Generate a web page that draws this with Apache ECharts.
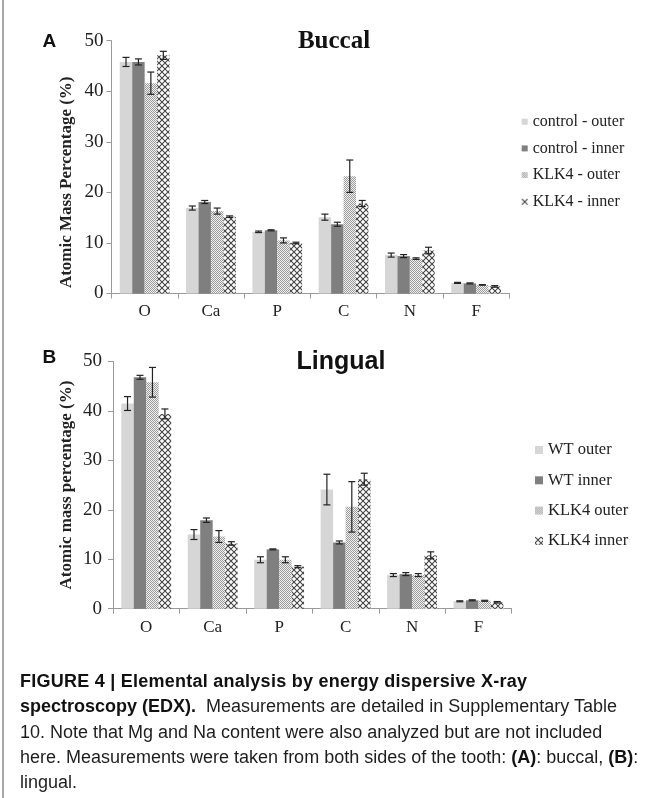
<!DOCTYPE html>
<html><head><meta charset="utf-8">
<script src="https://cdn.jsdelivr.net/npm/echarts@6/dist/echarts.min.js"></script>
<style>
html,body{margin:0;padding:0;background:#fff;}
#wrap{position:relative;width:652px;height:798px;overflow:hidden;background:#fff;}
#chart{position:absolute;left:0;top:0;width:652px;height:798px;}
#caption{position:absolute;left:20px;top:668.8px;width:632px;font-family:"Liberation Sans",Arial,sans-serif;font-size:18px;line-height:25.4px;color:#1e1e1e;white-space:nowrap;}
#caption b{font-weight:bold;color:#111;}
#caption .h{letter-spacing:0.25px;}
</style></head>
<body><div id="wrap"><div id="chart"></div>
<div id="caption"><b class="h">FIGURE 4 | Elemental analysis by energy dispersive X-ray</b><br><b>spectroscopy (EDX).</b>&nbsp; Measurements are detailed in Supplementary Table<br>10. Note that Mg and Na content were also analyzed but are not included<br>here. Measurements were taken from both sides of the tooth: <b>(A)</b>: buccal, <b>(B)</b>:<br>lingual.</div>
</div>
<script>
// ---- data ----
const categories = ['O', 'Ca', 'P', 'C', 'N', 'F'];
const yTicks = [0, 10, 20, 30, 40, 50];

// Panel A: Buccal
const namesA = ['control - outer', 'control - inner', 'KLK4 - outer', 'KLK4 - inner'];
const controlOuterA = [45.8, 16.9, 12.2, 15.1, 7.6, 2.1];
const controlOuterErrA = [0.9, 0.4, 0.15, 0.6, 0.4, 0.1];
const controlInnerA = [45.8, 18.1, 12.5, 13.7, 7.4, 2.0];
const controlInnerErrA = [0.6, 0.3, 0.1, 0.4, 0.3, 0.1];
const klk4OuterA = [41.6, 16.3, 10.5, 23.2, 6.9, 1.7];
const klk4OuterErrA = [2.2, 0.6, 0.5, 3.2, 0.15, 0.05];
const klk4InnerA = [47.1, 15.2, 10.0, 17.8, 8.5, 1.4];
const klk4InnerErrA = [0.8, 0.15, 0.15, 0.6, 0.65, 0.15];

// Panel B: Lingual
const namesB = ['WT outer', 'WT inner', 'KLK4 outer', 'KLK4 inner'];
const wtOuterB = [41.5, 15.0, 9.9, 24.1, 6.8, 1.5];
const wtOuterErrB = [1.4, 1.0, 0.6, 3.1, 0.3, 0.1];
const wtInnerB = [46.8, 17.9, 12.0, 13.4, 7.0, 1.7];
const wtInnerErrB = [0.4, 0.45, 0.1, 0.3, 0.3, 0.1];
const klk4OuterB = [45.8, 14.6, 9.9, 20.6, 6.8, 1.6];
const klk4OuterErrB = [3.0, 1.2, 0.6, 5.1, 0.3, 0.1];
const klk4InnerB = [39.4, 13.2, 8.5, 26.2, 10.8, 1.3];
const klk4InnerErrB = [1.0, 0.35, 0.2, 1.2, 0.7, 0.15];

// ---- patterns ----
function dotPattern() {
  const c = document.createElement('canvas'); c.width = 2; c.height = 2;
  const g = c.getContext('2d');
  g.fillStyle = '#f0f0f0'; g.fillRect(0, 0, 2, 2);
  g.fillStyle = '#9c9c9c';
  g.fillRect(0, 0, 1, 1); g.fillRect(1, 1, 1, 1);
  return { image: c, repeat: 'repeat' };
}
function crossPattern() {
  const s = 6;
  const c = document.createElement('canvas'); c.width = s; c.height = s;
  const g = c.getContext('2d');
  g.fillStyle = '#ffffff'; g.fillRect(0, 0, s, s);
  g.strokeStyle = '#444'; g.lineWidth = 1.1;
  g.beginPath(); g.moveTo(0, 0); g.lineTo(s, s); g.moveTo(0, s); g.lineTo(s, 0); g.stroke();
  return { image: c, repeat: 'repeat' };
}
const fills = ['#d6d6d6', '#7f7f7f', dotPattern(), crossPattern()];

function barSeries(name, data, k, ax) {
  return {
    type: 'bar', name: name, data: data, xAxisIndex: ax, yAxisIndex: ax,
    barGap: '0%', barCategoryGap: '25%',
    itemStyle: { color: fills[k] }, emphasis: { disabled: true }, animation: false
  };
}
function errSeries(means, errs, k, ax) {
  return {
    type: 'custom', xAxisIndex: ax, yAxisIndex: ax, z: 10, silent: true, animation: false,
    clip: false,
    data: means.map((m, i) => [i, m - errs[i], m + errs[i]]),
    renderItem: function (params, api) {
      const band = api.size([1, 0])[0];
      const w = band * 0.75 / 4;
      const off = (k - 1.5) * w;
      const lo = api.coord([api.value(0), api.value(1)]);
      const hi = api.coord([api.value(0), api.value(2)]);
      const x = lo[0] + off;
      const c = 3.5;
      const st = { stroke: '#222', lineWidth: 1.2 };
      return { type: 'group', children: [
        { type: 'line', shape: { x1: x, y1: lo[1], x2: x, y2: hi[1] }, style: st },
        { type: 'line', shape: { x1: x - c, y1: lo[1], x2: x + c, y2: lo[1] }, style: st },
        { type: 'line', shape: { x1: x - c, y1: hi[1], x2: x + c, y2: hi[1] }, style: st }
      ]};
    }
  };
}

const serif = '"Liberation Serif", "Times New Roman", serif';
const sans = '"Liberation Sans", Arial, sans-serif';

function xAxisCfg(grid) {
  return {
    type: 'category', gridIndex: grid, data: categories,
    axisLine: { lineStyle: { color: '#9a9a9a', width: 1 } },
    axisTick: { show: true, length: 5, lineStyle: { color: '#9a9a9a' } },
    axisLabel: { fontFamily: serif, fontSize: 17, color: '#222', margin: 10 }
  };
}
function yAxisCfg(grid, margin) {
  return {
    type: 'value', gridIndex: grid, min: yTicks[0], max: yTicks[yTicks.length - 1], interval: 10,
    axisLine: { show: true, lineStyle: { color: '#9a9a9a', width: 1 } },
    axisTick: { show: true, length: 5, lineStyle: { color: '#9a9a9a' } },
    splitLine: { show: false },
    axisLabel: { fontFamily: serif, fontSize: 19, color: '#222', margin: margin }
  };
}

const chart = echarts.init(document.getElementById('chart'), null, { renderer: 'canvas' });
const option = {
  backgroundColor: '#fff',
  animation: false,
  grid: [
    { left: 111.5, top: 40.7, width: 397.8, height: 252.8 },
    { left: 113, top: 361.5, width: 398.7, height: 247.2 }
  ],
  xAxis: [xAxisCfg(0), xAxisCfg(1)],
  yAxis: [yAxisCfg(0, 8), yAxisCfg(1, 11)],
  legend: [
    { data: namesA, orient: 'vertical', left: 516.7, top: 108.2, itemWidth: 6, itemHeight: 6,
      itemGap: 9.7, icon: 'rect', selectedMode: false,
      textStyle: { fontFamily: serif, fontSize: 16, color: '#222', lineHeight: 17 } },
    { data: namesB, orient: 'vertical', left: 530, top: 436.5, itemWidth: 8, itemHeight: 8,
      itemGap: 13.3, icon: 'rect', selectedMode: false,
      textStyle: { fontFamily: serif, fontSize: 16.5, color: '#222', lineHeight: 17 } }
  ],
  graphic: [
    { type: 'line', shape: { x1: 3, y1: 0, x2: 3, y2: 798 }, style: { stroke: '#8a8a8a', lineWidth: 1.5 } },
    { type: 'text', x: 42.5, y: 41.7, style: { text: 'A', font: 'bold 19px ' + sans, fill: '#111', textVerticalAlign: 'middle' } },
    { type: 'text', x: 42.5, y: 358, style: { text: 'B', font: 'bold 19px ' + sans, fill: '#111', textVerticalAlign: 'middle' } },
    { type: 'text', x: 334, y: 41.7, style: { text: 'Buccal', font: 'bold 25px ' + serif, fill: '#111', textAlign: 'center', textVerticalAlign: 'middle' } },
    { type: 'text', x: 341, y: 361.7, style: { text: 'Lingual', font: 'bold 25px ' + sans, fill: '#111', textAlign: 'center', textVerticalAlign: 'middle' } },
    { type: 'text', x: 66.7, y: 182.3, rotation: Math.PI / 2,
      style: { text: 'Atomic Mass Percentage (%)', font: 'bold 17px ' + serif, fill: '#222', textAlign: 'center', textVerticalAlign: 'middle' } },
    { type: 'text', x: 66.7, y: 485, rotation: Math.PI / 2,
      style: { text: 'Atomic mass percentage (%)', font: 'bold 17px ' + serif, fill: '#222', textAlign: 'center', textVerticalAlign: 'middle' } }
  ],
  series: [
    barSeries(namesA[0], controlOuterA, 0, 0),
    barSeries(namesA[1], controlInnerA, 1, 0),
    barSeries(namesA[2], klk4OuterA, 2, 0),
    barSeries(namesA[3], klk4InnerA, 3, 0),
    errSeries(controlOuterA, controlOuterErrA, 0, 0),
    errSeries(controlInnerA, controlInnerErrA, 1, 0),
    errSeries(klk4OuterA, klk4OuterErrA, 2, 0),
    errSeries(klk4InnerA, klk4InnerErrA, 3, 0),
    barSeries(namesB[0], wtOuterB, 0, 1),
    barSeries(namesB[1], wtInnerB, 1, 1),
    barSeries(namesB[2], klk4OuterB, 2, 1),
    barSeries(namesB[3], klk4InnerB, 3, 1),
    errSeries(wtOuterB, wtOuterErrB, 0, 1),
    errSeries(wtInnerB, wtInnerErrB, 1, 1),
    errSeries(klk4OuterB, klk4OuterErrB, 2, 1),
    errSeries(klk4InnerB, klk4InnerErrB, 3, 1)
  ]
};
chart.setOption(option);
</script>
</body></html>
